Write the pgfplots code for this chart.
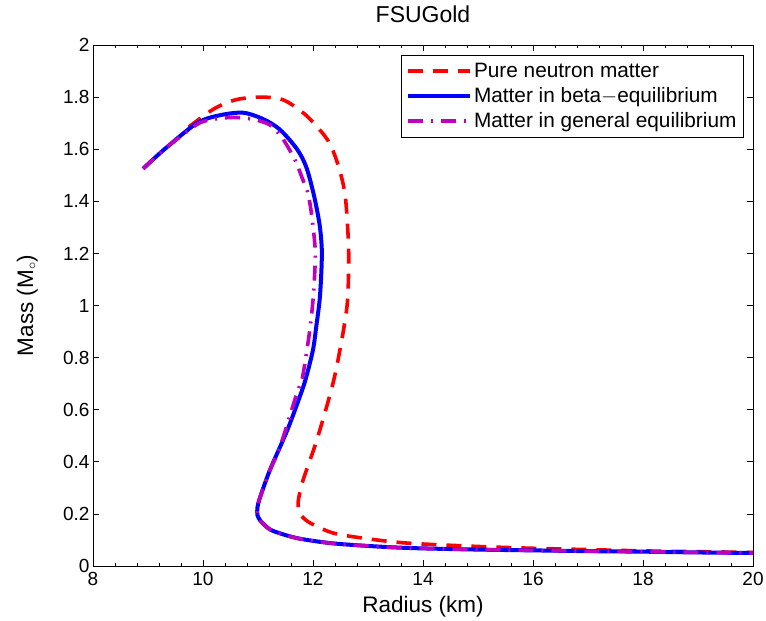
\documentclass[border=0pt]{standalone}
\usepackage{fontspec}
\setmainfont{Liberation Sans}
\usepackage{pgfplots}
\pgfplotsset{compat=1.18}
\definecolor{mred}{rgb}{1,0,0}
\definecolor{mblue}{rgb}{0,0,1}
\definecolor{mmag}{rgb}{0.75,0,0.75}
\pgfplotsset{legend image code/.code={\draw[#1] (0bp,0bp) -- (62bp,0bp);}}
\begin{document}
\begin{tikzpicture}
\useasboundingbox (-93bp,-55bp) rectangle (673bp,566bp);
\begin{axis}[
  at={(0,0)}, anchor=south west,
  width=660bp, height=521bp, scale only axis,
  xmin=8, xmax=20, ymin=0, ymax=2,
  xtick={8,10,12,14,16,18,20},
  ytick={0,0.2,0.4,0.6,0.8,1,1.2,1.4,1.6,1.8,2},
  yticklabels={0,0.2,0.4,0.6,0.8,1,1.2,1.4,1.6,1.8,2},
  minor x tick num=4,
  tick align=inside, tick pos=both,
  major tick length=6bp, minor tick length=3.5bp,
  every tick/.style={black, line width=0.6bp},
  axis line style={black, line width=0.8bp},
  /pgf/number format/assume math mode=true,
  ticklabel style={font=\fontsize{19bp}{19bp}\selectfont},
  xticklabel style={yshift=-2.5bp},
  title={FSUGold},
  title style={at={(axis description cs:0.5,1.0326)}, anchor=base, font=\fontsize{23bp}{23bp}\selectfont, inner sep=0pt},
  xlabel={Radius (km)},
  xlabel style={at={(axis description cs:0.5,-0.0902)}, anchor=base, font=\fontsize{22.5bp}{22.5bp}\selectfont, inner sep=0pt},
  ylabel={Mass (M$_\circ$)},
  ylabel style={at={(axis description cs:-0.0909,0.5)}, anchor=base, font=\fontsize{22.5bp}{22.5bp}\selectfont, inner sep=0pt},
  legend style={at={(axis description cs:0.986,0.981)}, anchor=north east,
    draw=black, line width=0.6bp, fill=white,
    font=\fontsize{20.8bp}{24bp}\selectfont,
    inner xsep=5bp, inner ysep=6bp, row sep=4.5bp},
  legend cell align=left,
]
\addplot[mred, line width=3.6bp, dash pattern=on 15bp off 10bp, smooth, tension=0.5] coordinates {
(9.74,1.685) (10.20,1.755) (10.60,1.79) (11.04,1.80) (11.45,1.79) (11.82,1.74)
(12.10,1.68) (12.31,1.62) (12.47,1.53) (12.58,1.43) (12.63,1.30) (12.65,1.175)
(12.62,1.00) (12.49,0.83) (12.35,0.69) (12.07,0.484) (11.82,0.33) (11.74,0.26)
(11.73,0.225) (11.78,0.195) (11.95,0.165) (12.36,0.127) (12.91,0.107) (13.71,0.088) (15.00,0.075)
(16.00,0.068) (17.00,0.063) (18.00,0.058) (19.00,0.055) (20.00,0.052)
};
\addlegendentry{Pure neutron matter}
\addplot[mblue, line width=4bp, smooth, tension=0.5] coordinates {
(8.91,1.525) (9.30,1.60) (9.89,1.70) (10.30,1.73) (10.73,1.74) (11.10,1.715)
(11.40,1.675) (11.71,1.60) (11.88,1.53) (12.02,1.42) (12.12,1.31) (12.16,1.215)
(12.15,1.12) (12.12,1.02) (12.06,0.92) (12.00,0.83) (11.87,0.72) (11.76,0.65)
(11.53,0.52) (11.22,0.37) (11.04,0.265) (10.99,0.225) (10.99,0.195) (11.04,0.175)
(11.12,0.157) (11.27,0.135)
(11.71,0.107) (12.31,0.088) (13.00,0.077) (13.76,0.069) (15.00,0.063) (16.00,0.060)
(17.00,0.057) (18.00,0.055) (19.00,0.052) (20.00,0.050)
};
\addlegendentry{Matter in beta$-$equilibrium}
\addplot[mmag, line width=3.6bp, dash pattern=on 15bp off 8bp on 2bp off 8bp, smooth, tension=0.5] coordinates {
(8.91,1.525) (9.30,1.60) (9.89,1.695) (10.20,1.715) (10.55,1.722) (10.90,1.715)
(11.22,1.693) (11.45,1.64) (11.67,1.56) (11.82,1.48) (11.91,1.43) (11.98,1.34)
(12.04,1.215) (12.03,1.12) (12.00,1.02) (11.95,0.92) (11.89,0.83) (11.80,0.715)
(11.71,0.665) (11.40,0.457) (11.22,0.37) (11.04,0.265) (10.99,0.225) (10.99,0.195)
(11.04,0.175) (11.12,0.157) (11.27,0.135)
(11.71,0.107) (12.31,0.088) (13.00,0.077) (13.76,0.069) (15.00,0.063)
(16.00,0.060) (17.00,0.057) (18.00,0.055) (19.00,0.052) (20.00,0.050)
};
\addlegendentry{Matter in general equilibrium}
\end{axis}
\end{tikzpicture}
\end{document}
